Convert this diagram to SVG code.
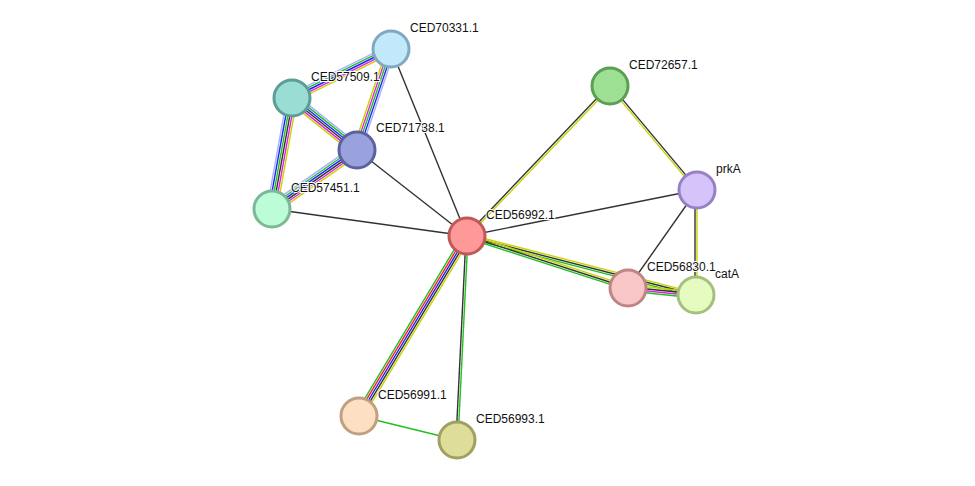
<svg xmlns="http://www.w3.org/2000/svg" width="975" height="486" viewBox="0 0 975 486">
<style>
.e line{stroke-width:1.4;fill:none}
.k{stroke:#333}.y{stroke:#c8d400}.g{stroke:#22c022}.b{stroke:#2020ff}.m{stroke:#e020e0}.l{stroke:#a8b0ff}.r{stroke:#ff2020}
.n circle{stroke-width:3}
text{font-family:"Liberation Sans",Arial,sans-serif;font-size:12px;fill:#111;paint-order:stroke;stroke:#fff;stroke-width:2px}
</style>
<rect width="975" height="486" fill="#fff"/>
<g id="connectors" class="e">
<line class="l" x1="391" y1="49" x2="292" y2="98" transform="translate(-1.78,-3.58)"/>
<line class="g" x1="391" y1="49" x2="292" y2="98" transform="translate(-0.89,-1.79)"/>
<line class="b" x1="391" y1="49" x2="292" y2="98"/>
<line class="m" x1="391" y1="49" x2="292" y2="98" transform="translate(0.89,1.79)"/>
<line class="y" x1="391" y1="49" x2="292" y2="98" transform="translate(1.78,3.58)"/>
<line class="l" x1="391" y1="49" x2="357" y2="150" transform="translate(3.78,1.28)"/>
<line class="b" x1="391" y1="49" x2="357" y2="150" transform="translate(1.89,0.64)"/>
<line class="g" x1="391" y1="49" x2="357" y2="150"/>
<line class="m" x1="391" y1="49" x2="357" y2="150" transform="translate(-1.89,-0.64)"/>
<line class="y" x1="391" y1="49" x2="357" y2="150" transform="translate(-3.78,-1.28)"/>
<line class="l" x1="292" y1="98" x2="357" y2="150" transform="translate(3.13,-3.9)"/>
<line class="g" x1="292" y1="98" x2="357" y2="150" transform="translate(1.88,-2.34)"/>
<line class="b" x1="292" y1="98" x2="357" y2="150" transform="translate(0.63,-0.78)"/>
<line class="k" x1="292" y1="98" x2="357" y2="150" transform="translate(-0.63,0.78)"/>
<line class="m" x1="292" y1="98" x2="357" y2="150" transform="translate(-1.88,2.34)"/>
<line class="y" x1="292" y1="98" x2="357" y2="150" transform="translate(-3.13,3.9)"/>
<line class="l" x1="292" y1="98" x2="272" y2="209" transform="translate(-4.93,-0.88)"/>
<line class="b" x1="292" y1="98" x2="272" y2="209" transform="translate(-2.96,-0.53)"/>
<line class="g" x1="292" y1="98" x2="272" y2="209" transform="translate(-0.99,-0.18)"/>
<line class="k" x1="292" y1="98" x2="272" y2="209" transform="translate(0.99,0.18)"/>
<line class="m" x1="292" y1="98" x2="272" y2="209" transform="translate(2.96,0.53)"/>
<line class="y" x1="292" y1="98" x2="272" y2="209" transform="translate(4.93,0.88)"/>
<line class="l" x1="357" y1="150" x2="272" y2="209" transform="translate(-2.85,-4.1)"/>
<line class="g" x1="357" y1="150" x2="272" y2="209" transform="translate(-1.71,-2.46)"/>
<line class="b" x1="357" y1="150" x2="272" y2="209" transform="translate(-0.57,-0.82)"/>
<line class="k" x1="357" y1="150" x2="272" y2="209" transform="translate(0.57,0.82)"/>
<line class="m" x1="357" y1="150" x2="272" y2="209" transform="translate(1.71,2.46)"/>
<line class="y" x1="357" y1="150" x2="272" y2="209" transform="translate(2.85,4.1)"/>
<line class="k" x1="391" y1="49" x2="467" y2="236"/>
<line class="k" x1="357" y1="150" x2="467" y2="236"/>
<line class="k" x1="272" y1="209" x2="467" y2="236"/>
<line class="k" x1="697" y1="190" x2="467" y2="236"/>
<line class="k" x1="697" y1="190" x2="628" y2="288"/>
<line class="k" x1="467" y1="236" x2="610" y2="86" transform="translate(-0.72,-0.69)"/>
<line class="y" x1="467" y1="236" x2="610" y2="86" transform="translate(0.72,0.69)"/>
<line class="k" x1="610" y1="86" x2="697" y2="190" transform="translate(0.77,-0.64)"/>
<line class="y" x1="610" y1="86" x2="697" y2="190" transform="translate(-0.77,0.64)"/>
<line class="k" x1="696" y1="190" x2="696" y2="295" transform="translate(-1,0)"/>
<line class="y" x1="696" y1="190" x2="696" y2="295" transform="translate(1,0)"/>
<line class="y" x1="467" y1="236" x2="696" y2="295" transform="translate(0.5,-1.93)"/>
<line class="k" x1="467" y1="236" x2="696" y2="295"/>
<line class="g" x1="467" y1="236" x2="696" y2="295" transform="translate(-0.5,1.93)"/>
<line class="y" x1="467" y1="236" x2="628" y2="288" transform="translate(0.62,-1.9)"/>
<line class="k" x1="467" y1="236" x2="628" y2="288"/>
<line class="g" x1="467" y1="236" x2="628" y2="288" transform="translate(-0.62,1.9)"/>
<line class="y" x1="628" y1="288" x2="696" y2="295" transform="translate(0,-3)"/>
<line class="k" x1="628" y1="288" x2="696" y2="295" transform="translate(0,-1)"/>
<line class="m" x1="628" y1="288" x2="696" y2="295" transform="translate(0,1)"/>
<line class="g" x1="628" y1="288" x2="696" y2="295" transform="translate(0,3)"/>
<line class="g" x1="467" y1="236" x2="359" y2="416" transform="translate(-3.42,-2.06)"/>
<line class="r" x1="467" y1="236" x2="359" y2="416" transform="translate(-1.71,-1.03)"/>
<line class="b" x1="467" y1="236" x2="359" y2="416"/>
<line class="k" x1="467" y1="236" x2="359" y2="416" transform="translate(1.71,1.03)"/>
<line class="y" x1="467" y1="236" x2="359" y2="416" transform="translate(3.42,2.06)"/>
<line class="k" x1="467" y1="236" x2="457" y2="440" transform="translate(-1,0)"/>
<line class="g" x1="467" y1="236" x2="457" y2="440" transform="translate(1,0)"/>
<line class="g" x1="359" y1="416" x2="457" y2="440"/>
</g>
<g id="CED56992.1" class="n"><circle cx="467" cy="236" r="18" fill="#ff9999" stroke="#c05858"/><text x="486" y="219">CED56992.1</text></g>
<g id="CED70331.1" class="n"><circle cx="391" cy="49" r="18" fill="#c2e8fb" stroke="#80a8c2"/><text x="410" y="32">CED70331.1</text></g>
<g id="CED57509.1" class="n"><circle cx="292" cy="98" r="18" fill="#99ddd4" stroke="#5a9e95"/><text x="311" y="81">CED57509.1</text></g>
<g id="CED71738.1" class="n"><circle cx="357" cy="150" r="18" fill="#9aa2de" stroke="#5a62a0"/><text x="376" y="132">CED71738.1</text></g>
<g id="CED57451.1" class="n"><circle cx="272" cy="209" r="18" fill="#bcfcd6" stroke="#7ab897"/><text x="291" y="192">CED57451.1</text></g>
<g id="CED72657.1" class="n"><circle cx="610" cy="86" r="18" fill="#9de093" stroke="#5d9e55"/><text x="629" y="69">CED72657.1</text></g>
<g id="prkA" class="n"><circle cx="697" cy="190" r="18" fill="#d4c4fa" stroke="#9880c5"/><text x="716" y="173">prkA</text></g>
<g id="CED56830.1" class="n"><circle cx="628" cy="288" r="18" fill="#f7c6c6" stroke="#c08585"/><text x="647" y="271">CED56830.1</text></g>
<g id="catA" class="n"><circle cx="696" cy="295" r="18" fill="#e5fbc0" stroke="#a2c07e"/><text x="715" y="278">catA</text></g>
<g id="CED56991.1" class="n"><circle cx="359" cy="416" r="18" fill="#fde0c4" stroke="#c0a080"/><text x="378" y="399">CED56991.1</text></g>
<g id="CED56993.1" class="n"><circle cx="457" cy="440" r="18" fill="#dede9a" stroke="#a0a060"/><text x="476" y="423">CED56993.1</text></g>
</svg>
